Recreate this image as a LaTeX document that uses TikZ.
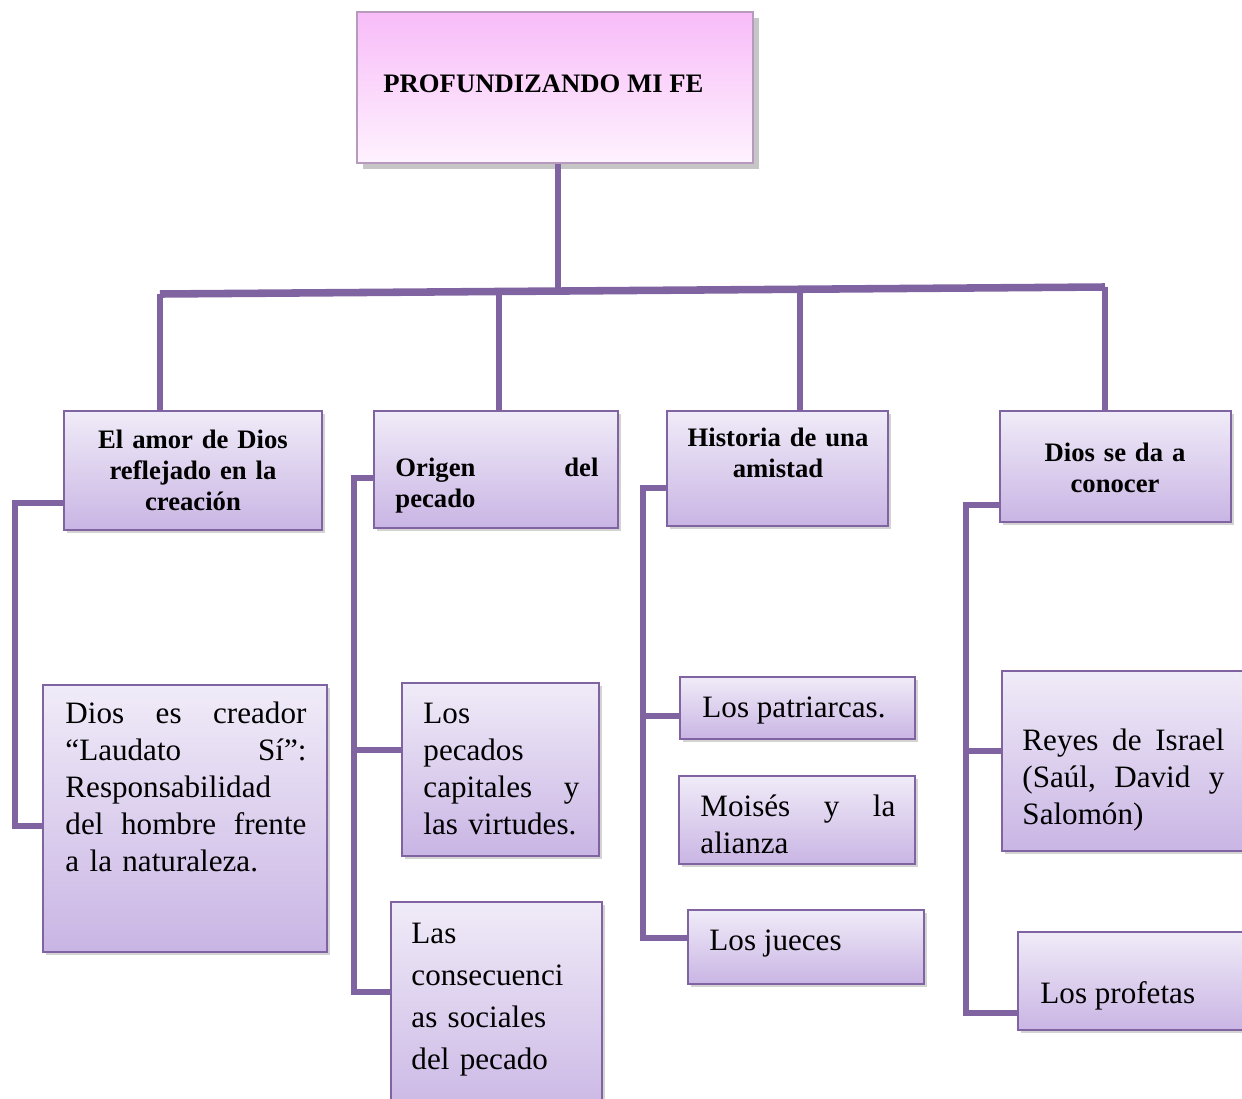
\documentclass[tikz,border=0pt]{standalone}
\usepackage{fontspec}
\setmainfont{Liberation Serif}
\usetikzlibrary{shadows,calc}
\definecolor{morado}{HTML}{8064A2}
\definecolor{lilaclaro}{HTML}{F0EBF8}
\definecolor{lilaoscuro}{HTML}{C9B5E4}
\definecolor{rosa}{HTML}{F8BCF8}
\definecolor{rosaclaro}{HTML}{FEF2FE}
\definecolor{bordefe}{HTML}{B89ABE}
\newdimen\pxu
\pxu=0.45pt

\begin{document}
\begin{tikzpicture}[
    x=0.45pt, y=-0.45pt,
    caja/.style={
        draw=morado, line width=1pt,
        top color=lilaclaro, bottom color=lilaoscuro,
        drop shadow={shadow xshift=1.5pt, shadow yshift=-1.5pt, opacity=0.35}
    },
    cajafe/.style={
        draw=bordefe, line width=1pt,
        top color=rosa, bottom color=rosaclaro,
        drop shadow={shadow xshift=2.5pt, shadow yshift=-2.5pt, opacity=0.45}
    },
    titulo/.style={font=\fontsize{12}{14}\selectfont\bfseries, inner sep=0pt},
    texto/.style={font=\fontsize{14}{16.65}\selectfont, inner sep=0pt, align=left, anchor=base west},
    link/.style={draw=morado, line width=2.6pt},
    barra/.style={draw=morado, line width=3.4pt}
]
\useasboundingbox (0,0) rectangle (1242,1099);
\clip (0,0) rectangle (1242,1099);

% top box
\node[cajafe, minimum width=396\pxu, minimum height=151\pxu] (fe) at (555,87.5) {};
\node[titulo, anchor=base west] (fe-t) at (383,92.5) {PROFUNDIZANDO MI FE};

% second level
\node[caja, minimum width=258\pxu, minimum height=119\pxu] (amor) at (193,470.5) {};
\node[titulo, anchor=base, text width=230\pxu, align=center] (amor-t) at (193,448.5)
    {El amor de Dios\\reflejado en la\\creación};
\node[caja, minimum width=244\pxu, minimum height=117\pxu] (origen) at (496,469.5) {};
\node[titulo, anchor=base west, text width=203\pxu, align=left] (origen-t) at (395,476.5)
    {Origen\hfill del\\pecado};
\node[caja, minimum width=221\pxu, minimum height=115\pxu] (historia) at (777.5,468.5) {};
\node[titulo, anchor=base, text width=200\pxu, align=center] (historia-t) at (778,446.5)
    {Historia de una\\amistad};
\node[caja, minimum width=231\pxu, minimum height=111\pxu] (darse) at (1115.5,466.5) {};
\node[titulo, anchor=base, text width=200\pxu, align=center] (darse-t) at (1115,461.5)
    {Dios se da a\\conocer};

% third level
\node[caja, minimum width=284\pxu, minimum height=267\pxu] (creador) at (185,818.5) {};
\node[texto, text width=241\pxu] (creador-t) at (65,723)
    {Dios\hfill es\hfill creador\\“Laudato\hfill Sí”:\\Responsabilidad\\del\hfill hombre\hfill frente\\a la naturaleza.};
\node[caja, minimum width=197\pxu, minimum height=173\pxu] (capitales) at (500.5,769.5) {};
\node[texto, text width=156\pxu] (capitales-t) at (423,723)
    {Los\\pecados\\capitales\hfill y\\las virtudes.};
\node[caja, minimum width=211\pxu, minimum height=220\pxu] (consecuencias) at (496.5,1012) {};
\node[texto, text width=180\pxu, font=\fontsize{14}{18.9}\selectfont] (consecuencias-t) at (411,943)
    {Las\\consecuenci\\as sociales\\del pecado};
\node[caja, minimum width=235\pxu, minimum height=62\pxu] (patriarcas) at (797.5,708) {};
\node[texto] (patriarcas-t) at (702,717) {Los patriarcas.};
\node[caja, minimum width=236\pxu, minimum height=88\pxu] (moises) at (797,820) {};
\node[texto, text width=195\pxu] (moises-t) at (700,816) {Moisés\hfill y\hfill la\\alianza};
\node[caja, minimum width=236\pxu, minimum height=74\pxu] (jueces) at (806,947) {};
\node[texto] (jueces-t) at (709,950) {Los jueces};
\node[caja, minimum width=260\pxu, minimum height=180\pxu] (reyes) at (1132,761) {};
\node[texto, text width=202\pxu] (reyes-t) at (1022,750)
    {Reyes\hfill de\hfill Israel\\(Saúl,\hfill David\hfill y\\Salomón)};
\node[caja, minimum width=250\pxu, minimum height=98\pxu] (profetas) at (1143,981) {};
\node[texto] (profetas-t) at (1040,1003) {Los profetas};

% trunk and bar
\coordinate (tronco) at (558,289);
\coordinate (b1) at (160,294);
\coordinate (b2) at (499,292);
\coordinate (b3) at (800,290);
\coordinate (b4) at (1105,287);
\draw[link] (fe.south -| tronco) -- (tronco);
\draw[barra] (b1) -- (b4);
\draw[link] (b1) -- (b1 |- amor.north);
\draw[link] (b2) -- (b2 |- origen.north);
\draw[link] (b3) -- (b3 |- historia.north);
\draw[link] (b4) -- (b4 |- darse.north);

% spines
\coordinate (s1a) at (15,503);
\coordinate (s1b) at (15,826);
\draw[link] (amor.west |- s1a) -- (s1a) -- (s1b) -- (creador.west |- s1b);

\coordinate (s2a) at (354,478);
\coordinate (s2b) at (354,992);
\coordinate (s2c) at (354,750);
\draw[link] (origen.west |- s2a) -- (s2a) -- (s2b) -- (consecuencias.west |- s2b);
\draw[link] (s2c) -- (capitales.west |- s2c);

\coordinate (s3a) at (643,488);
\coordinate (s3b) at (643,938);
\coordinate (s3c) at (643,716);
\draw[link] (historia.west |- s3a) -- (s3a) -- (s3b) -- (jueces.west |- s3b);
\draw[link] (s3c) -- (patriarcas.west |- s3c);

\coordinate (s4a) at (966,505);
\coordinate (s4b) at (966,1013);
\coordinate (s4c) at (966,751);
\draw[link] (darse.west |- s4a) -- (s4a) -- (s4b) -- (profetas.west |- s4b);
\draw[link] (s4c) -- (reyes.west |- s4c);
\end{tikzpicture}
\end{document}
